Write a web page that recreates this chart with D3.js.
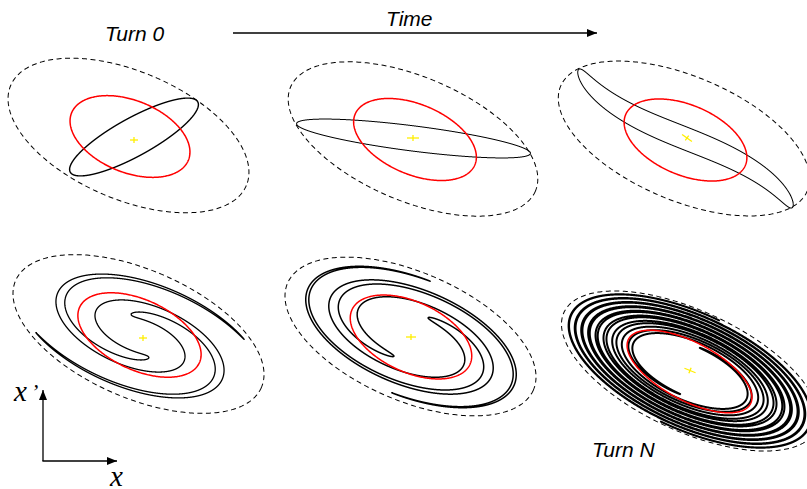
<!DOCTYPE html>
<html><head><meta charset="utf-8">
<script src="https://cdn.jsdelivr.net/npm/d3@7"></script>
<style>body{margin:0;background:#fff}svg{display:block}</style></head>
<body><svg id="c" width="807" height="489"></svg>
<script>
// ---- panel data (pixels / degrees) ----
const panelIds  = [0, 1, 2, 3, 4, 5];
// dashed envelope ellipse
const envCx   = [128.5, 413, 684, 138.5, 410.5, 690];
const envCy   = [135.5, 139, 138.5, 334, 336.5, 371];
const envRx   = [128, 133, 134, 134, 134, 139];
const envRy   = [64, 62, 62, 64, 64, 60];
const envTilt = [23, 23, 23, 23.5, 23.5, 25];
// red matched ellipse
const matchCx   = [130, 415, 685.5, 139.5, 411, 689.5];
const matchCy   = [136.5, 139.5, 140, 335, 337, 371.5];
const matchRx   = [63, 65, 65, 66, 65, 69];
const matchRy   = [36, 35, 35, 35, 35, 29];
const matchTilt = [22, 23, 23, 25, 25, 28];
// black beam contour (filamenting)
const beamCx     = [134, 413.5, 685.5, 140, 411, 690];
const beamCy     = [137, 138.5, 138.5, 336, 337, 371];
const beamScale  = [0.97, 1, 1, 0.94, 0.92, 0.97];
const beamMinor  = [0.18, 0.18, 0.18, 0.27, 0.4, 0.43];
const beamTurn   = [0, 38, 91, 210, 337.5, 162];   // phase advance of the tips (deg)
const beamSpread = [0, 0, 24, 333, 427.5, 1530];   // extra phase of the core vs the tips (deg)
const beamPower  = [2, 2, 2, 1, 2, 2];             // shape of the amplitude dependence
const beamStroke = [1.4, 1, 1, 1.3, 1.5, 2];
const beamTilt0 = -70;
// yellow centroid crosses
const crossX    = [134, 413, 687, 143, 411, 690];
const crossY    = [140, 138, 138, 338, 337, 370.5];
const crossTilt = [0, 0, 35, 0, 0, 22];
const crossLen  = [4, 6, 6, 4, 5, 6];
// labels
const labelText = ["Turn 0", "Time", "Turn N"];
const labelX    = [105, 386, 592];
const labelY    = [41, 26, 457];

const svg = d3.select("#c");
const rad = Math.PI / 180;

function frame(cx, cy, tilt, rx, ry) {
  const g = svg.append("g").attr("transform", `translate(${cx},${cy}) rotate(${tilt})`);
  const xs = d3.scaleLinear().domain([-1, 1]).range([-rx, rx]);
  const ys = d3.scaleLinear().domain([-1, 1]).range([-ry, ry]);
  const line = d3.line().x(d => xs(d[0])).y(d => ys(d[1]));
  return {g, line};
}
const circle = d3.range(0, 361).map(i => [Math.cos(i * rad), Math.sin(i * rad)]);

panelIds.forEach(i => {
  // dashed envelope
  const e = frame(envCx[i], envCy[i], envTilt[i], envRx[i], envRy[i]);
  e.g.append("path").attr("d", e.line(circle) + "Z")
    .attr("fill", "none").attr("stroke", "#000").attr("stroke-width", 1)
    .attr("stroke-dasharray", "5,3.5");

  // beam contour
  const b = frame(beamCx[i], beamCy[i], envTilt[i], envRx[i] * beamScale[i], envRy[i] * beamScale[i]);
  const N = 24000, s = beamMinor[i], q = beamPower[i];
  const ca = Math.cos(beamTilt0 * rad), sa = Math.sin(beamTilt0 * rad);
  const pts = d3.range(N + 1).map(k => {
    const psi = 2 * Math.PI * k / N;
    const px = Math.cos(psi), py = s * Math.sin(psi);
    const u0 = px * ca - py * sa, v0 = px * sa + py * ca;
    const r = Math.hypot(u0, v0);
    const spread = -beamSpread[i] * (Math.pow(r, q) - 1) / (Math.pow(s, q) - 1);
    const th = Math.atan2(v0, u0) + (beamTurn[i] + spread) * rad;
    return [r * Math.cos(th), r * Math.sin(th)];
  });
  b.g.append("path").attr("d", b.line(pts))
    .attr("fill", "none").attr("stroke", "#000").attr("stroke-width", beamStroke[i])
    .attr("stroke-linejoin", "round");

  // red matched ellipse
  const m = frame(matchCx[i], matchCy[i], matchTilt[i], matchRx[i], matchRy[i]);
  m.g.append("path").attr("d", m.line(circle) + "Z")
    .attr("fill", "none").attr("stroke", "#ff0000").attr("stroke-width", 1.5);

  // yellow cross
  const c = svg.append("g").attr("transform", `translate(${crossX[i]},${crossY[i]}) rotate(${crossTilt[i]})`);
  c.append("line").attr("x1", -crossLen[i]).attr("x2", crossLen[i]).attr("y1", 0).attr("y2", 0);
  c.append("line").attr("x1", 0).attr("x2", 0).attr("y1", -3).attr("y2", 3);
  c.selectAll("line").attr("stroke", "#ffee00").attr("stroke-width", 1.3);
});

// labels
svg.selectAll("text.lab").data(labelText).join("text").attr("class", "lab")
  .attr("x", (d, k) => labelX[k]).attr("y", (d, k) => labelY[k])
  .attr("font-family", "Liberation Sans").attr("font-style", "italic")
  .attr("font-size", 21).attr("fill", "#000")
  .text(d => d);

// arrows
const defs = svg.append("defs");
defs.append("marker").attr("id", "ah").attr("viewBox", "0 0 10 8")
  .attr("refX", 10).attr("refY", 4).attr("markerWidth", 10).attr("markerHeight", 8)
  .attr("markerUnits", "userSpaceOnUse").attr("orient", "auto")
  .append("path").attr("d", "M0,0L10,4L0,8Z").attr("fill", "#000");

svg.append("line").attr("x1", 233).attr("y1", 33).attr("x2", 597).attr("y2", 33)
  .attr("stroke", "#000").attr("stroke-width", 1.3).attr("marker-end", "url(#ah)");
svg.append("line").attr("x1", 43).attr("y1", 461).attr("x2", 43).attr("y2", 390)
  .attr("stroke", "#000").attr("stroke-width", 1.3).attr("marker-end", "url(#ah)");
svg.append("line").attr("x1", 42.4).attr("y1", 461).attr("x2", 117).attr("y2", 461)
  .attr("stroke", "#000").attr("stroke-width", 1.3).attr("marker-end", "url(#ah)");

// axis symbols
function serifText(x, y, size, t) {
  svg.append("text").attr("x", x).attr("y", y)
    .attr("font-family", "Liberation Serif").attr("font-style", "italic")
    .attr("font-size", size).attr("fill", "#000").text(t);
}
serifText(14, 401, 29, "x");
serifText(31, 399, 22, "’");
serifText(110, 486, 29, "x");
</script></body></html>
